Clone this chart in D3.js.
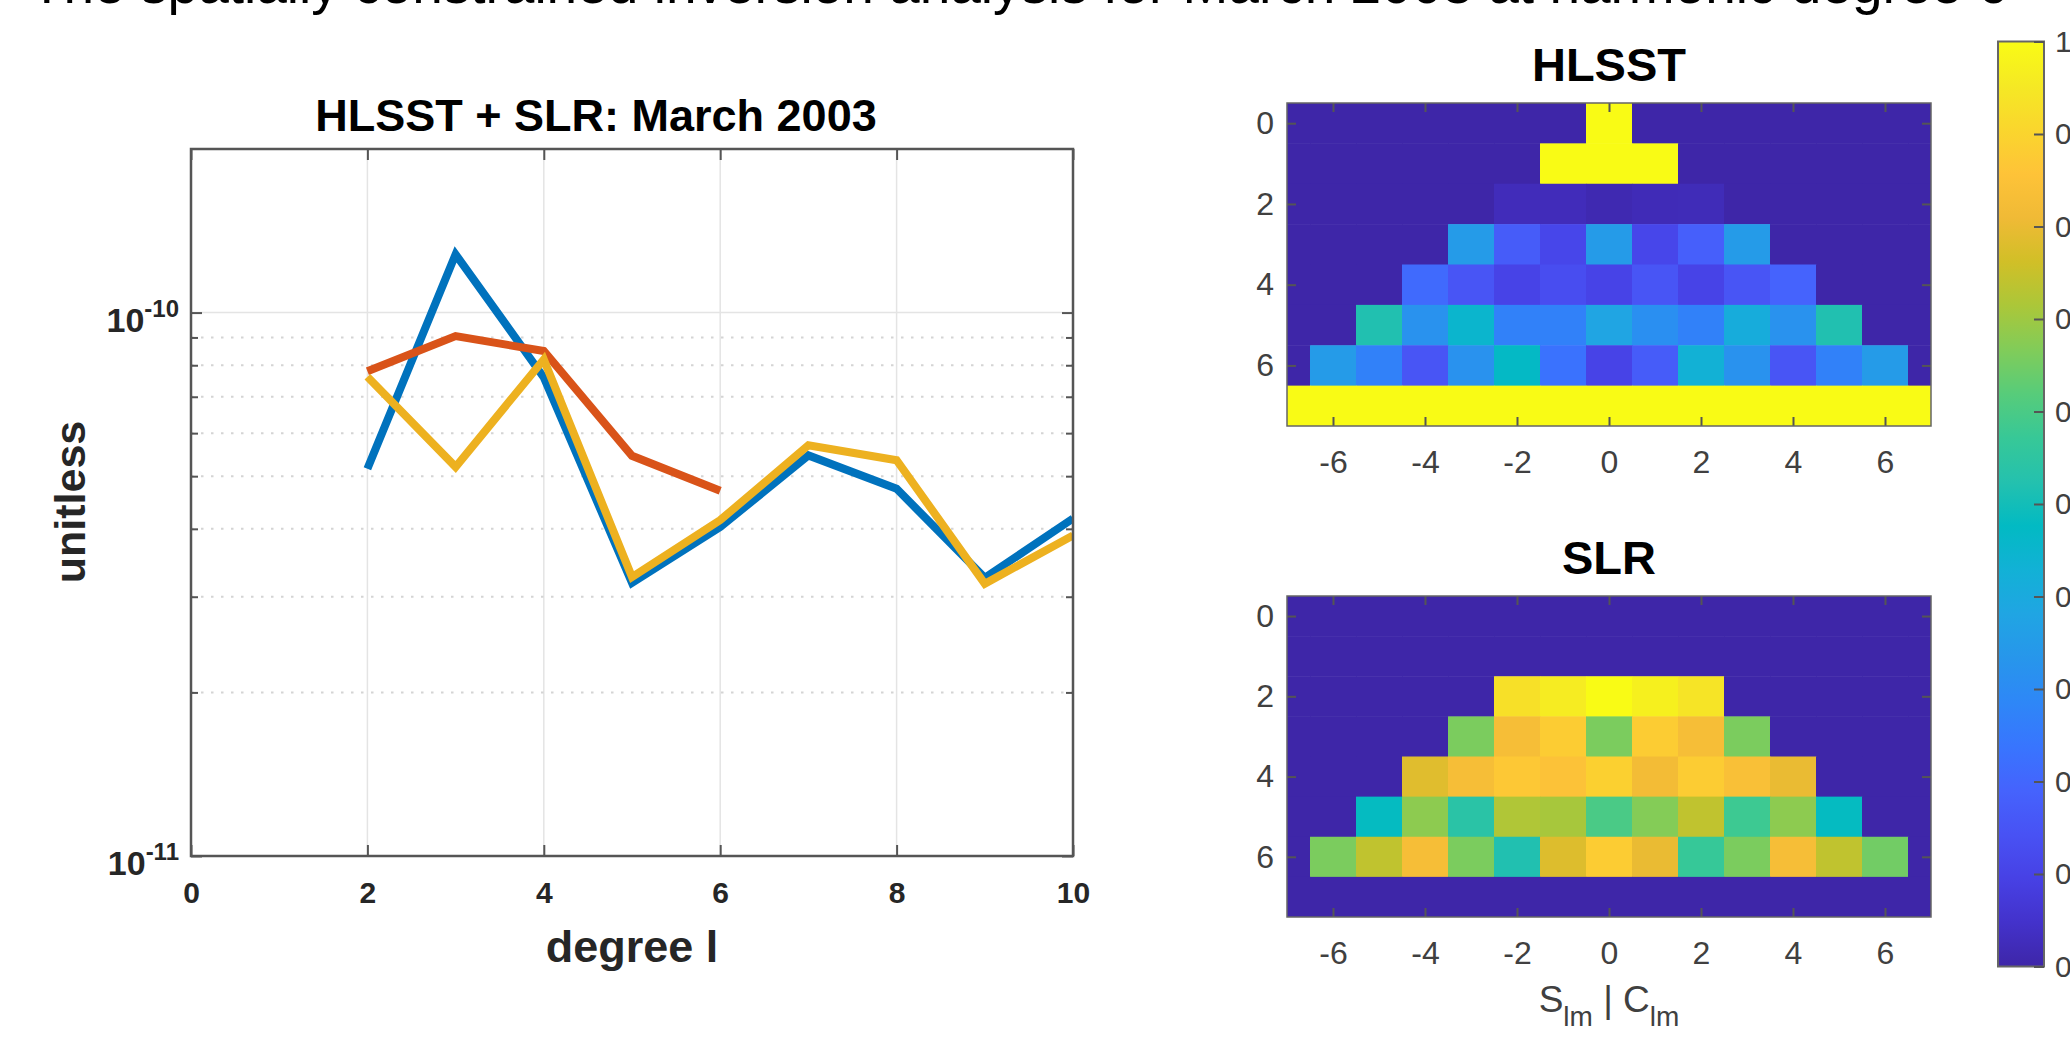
<!DOCTYPE html>
<html>
<head>
<meta charset="utf-8">
<title>HLSST + SLR: March 2003</title>
<style>
    html, body { margin: 0; padding: 0; background: #fff; overflow: hidden; }
    svg { display: block; font-family: "Liberation Sans", Arial, Helvetica, sans-serif; }
</style>
</head>
<body>
<script src="https://d3js.org/d3.v7.min.js"></script>
<script>

    var width = 2070,
        height = 1049;

    // slide heading, mostly cut off by the top of the screenshot
    var headingText = 'The spatially constrained inversion analysis for March 2003 at harmonic degree 6';

    // left panel: degree l vs unitless
    var degrees = [2, 3, 4, 5, 6, 7, 8, 9, 10];
    var blueSeries = [5.16e-11, 1.28e-10, 7.6e-11, 3.18e-11, 4.03e-11, 5.46e-11, 4.74e-11, 3.25e-11, 4.18e-11];
    var redDegrees = [2, 3, 4, 5, 6];
    var redSeries = [7.8e-11, 9.05e-11, 8.5e-11, 5.45e-11, 4.7e-11];
    var yellowSeries = [7.62e-11, 5.2e-11, 8.2e-11, 3.26e-11, 4.15e-11, 5.7e-11, 5.35e-11, 3.17e-11, 3.89e-11];
    var xTicks = [0, 2, 4, 6, 8, 10];
    var yMajor = [1e-11, 1e-10];
    var yMinor = [2e-11, 3e-11, 4e-11, 5e-11, 6e-11, 7e-11, 8e-11, 9e-11];
    var yLabels = [{base: '10', exp: '-11'}, {base: '10', exp: '-10'}];

    // right panels: one row per degree l, orders m = -l..l
    var hlsstRows = [
        [1],
        [1, 1, 1],
        [0.025, 0.025, 0.012, 0.02, 0.022],
        [0.35, 0.17, 0.11, 0.35, 0.11, 0.18, 0.35],
        [0.21, 0.15, 0.10, 0.13, 0.10, 0.15, 0.10, 0.15, 0.19],
        [0.52, 0.32, 0.45, 0.27, 0.27, 0.38, 0.31, 0.27, 0.41, 0.32, 0.52],
        [0.35, 0.27, 0.15, 0.32, 0.47, 0.23, 0.10, 0.17, 0.43, 0.32, 0.15, 0.27, 0.35],
        [1, 1, 1, 1, 1, 1, 1, 1, 1, 1, 1, 1, 1, 1, 1]
    ];
    var slrRows = [
        [0],
        [0, 0, 0],
        [0.93, 0.96, 1.0, 0.97, 0.94],
        [0.66, 0.83, 0.88, 0.66, 0.88, 0.83, 0.66],
        [0.785, 0.83, 0.87, 0.85, 0.89, 0.82, 0.88, 0.84, 0.80],
        [0.48, 0.68, 0.54, 0.72, 0.71, 0.60, 0.67, 0.74, 0.58, 0.68, 0.48],
        [0.66, 0.74, 0.83, 0.66, 0.52, 0.78, 0.88, 0.80, 0.57, 0.66, 0.83, 0.74, 0.65],
        [0, 0, 0, 0, 0, 0, 0, 0, 0, 0, 0, 0, 0, 0, 0]
    ];
    var orderTicks = [-6, -4, -2, 0, 2, 4, 6];
    var degreeTicks = [0, 2, 4, 6];
    var colorbarTicks = [0, 0.1, 0.2, 0.3, 0.4, 0.5, 0.6, 0.7, 0.8, 0.9, 1];

    // parula colormap (every 3rd entry of the 64 colour table)
    var parulaStops = ['#3e26a8', '#4332cb', '#4741e5', '#4852f4', '#4563fd', '#3875fe', '#2e87f7',
        '#2796eb', '#20a5e3', '#12b1d6', '#02bac3', '#24c1ae', '#37c897', '#57cc7a', '#81cc59',
        '#abc739', '#d1bf27', '#f0ba36', '#fec338', '#fad62d', '#f5e924', '#f9fb15'];
    var parula = d3.piecewise(d3.interpolateRgb, parulaStops);
    var color = d3.scaleSequential(parula).domain([0, 1]);

    var svg = d3.select('body').append('svg')
        .attr('width', width)
        .attr('height', height);

    svg.append('text')
        .attr('x', 30).attr('y', 3)
        .attr('font-size', 55)
        .attr('fill', '#000')
        .text(headingText);

    // ---------------- left panel ----------------
    var L = {left: 191, right: 1073, top: 149, bottom: 856};

    var x = d3.scaleLinear().domain([0, 10]).range([L.left, L.right]);
    var y = d3.scaleLog().domain([1e-11, 2e-10]).range([L.bottom, L.top]);

    var left = svg.append('g');

    svg.append('clipPath').attr('id', 'clipLeft')
        .append('rect')
        .attr('x', L.left).attr('y', L.top)
        .attr('width', L.right - L.left).attr('height', L.bottom - L.top);

    // grid
    left.selectAll('.vgrid')
        .data(xTicks.slice(1, -1))
        .enter().append('line')
        .attr('x1', function (d) { return x(d); })
        .attr('x2', function (d) { return x(d); })
        .attr('y1', L.top).attr('y2', L.bottom)
        .attr('stroke', '#e4e4e4').attr('stroke-width', 1.5);

    left.selectAll('.hgrid')
        .data([1e-10])
        .enter().append('line')
        .attr('x1', L.left).attr('x2', L.right)
        .attr('y1', function (d) { return y(d); })
        .attr('y2', function (d) { return y(d); })
        .attr('stroke', '#e4e4e4').attr('stroke-width', 1.5);

    left.selectAll('.minorgrid')
        .data(yMinor)
        .enter().append('line')
        .attr('x1', L.left).attr('x2', L.right)
        .attr('y1', function (d) { return y(d); })
        .attr('y2', function (d) { return y(d); })
        .attr('stroke', '#d4d4d4').attr('stroke-width', 2)
        .attr('stroke-dasharray', '2.5,7.5');

    // curves
    var line = d3.line()
        .x(function (d) { return x(d[0]); })
        .y(function (d) { return y(d[1]); });

    var series = [
        {deg: degrees, val: blueSeries, color: '#0072BD'},
        {deg: redDegrees, val: redSeries, color: '#D95319'},
        {deg: degrees, val: yellowSeries, color: '#EDB120'}
    ];

    left.append('g').attr('clip-path', 'url(#clipLeft)')
        .selectAll('path')
        .data(series)
        .enter().append('path')
        .attr('d', function (s) { return line(d3.zip(s.deg, s.val)); })
        .attr('fill', 'none')
        .attr('stroke', function (s) { return s.color; })
        .attr('stroke-width', 8)
        .attr('stroke-linejoin', 'miter');

    // axes (ticks point inwards, box on)
    function styleAxis(sel) {
        sel.select('.domain').remove();
        sel.selectAll('.tick line').attr('stroke', '#555').attr('stroke-width', 2);
    }

    left.append('g')
        .attr('transform', 'translate(0,' + L.bottom + ')')
        .call(d3.axisBottom(x).tickValues(xTicks).tickSize(-11).tickPadding(26).tickFormat(d3.format('d')))
        .call(styleAxis)
        .selectAll('text')
        .attr('font-size', 30).attr('font-weight', 'bold')
        .attr('font-family', '"Liberation Sans", Arial, sans-serif')
        .attr('fill', '#262626');

    left.append('g')
        .attr('transform', 'translate(0,' + L.top + ')')
        .call(d3.axisTop(x).tickValues(xTicks).tickSize(-11).tickFormat(''))
        .call(styleAxis);

    left.append('g')
        .attr('transform', 'translate(' + L.left + ',0)')
        .call(d3.axisLeft(y).tickValues(yMajor).tickSize(-11).tickFormat(''))
        .call(styleAxis);
    left.append('g')
        .attr('transform', 'translate(' + L.left + ',0)')
        .call(d3.axisLeft(y).tickValues(yMinor).tickSize(-7).tickFormat(''))
        .call(styleAxis);
    left.append('g')
        .attr('transform', 'translate(' + L.right + ',0)')
        .call(d3.axisRight(y).tickValues(yMajor).tickSize(-11).tickFormat(''))
        .call(styleAxis);
    left.append('g')
        .attr('transform', 'translate(' + L.right + ',0)')
        .call(d3.axisRight(y).tickValues(yMinor).tickSize(-7).tickFormat(''))
        .call(styleAxis);

    // 10^n labels
    var yl = left.selectAll('.ylab')
        .data(yMajor)
        .enter().append('text')
        .attr('x', L.left - 12)
        .attr('y', function (d) { return y(d) + 19; })
        .attr('text-anchor', 'end')
        .attr('font-weight', 'bold')
        .attr('fill', '#262626');
    yl.append('tspan')
        .attr('font-size', 34)
        .text(function (d, i) { return yLabels[i].base; });
    yl.append('tspan')
        .attr('font-size', 24)
        .attr('dy', -15)
        .text(function (d, i) { return yLabels[i].exp; });

    left.append('rect')
        .attr('x', L.left).attr('y', L.top)
        .attr('width', L.right - L.left).attr('height', L.bottom - L.top)
        .attr('fill', 'none').attr('stroke', '#555').attr('stroke-width', 2.5);

    left.append('text')
        .attr('x', 596).attr('y', 131)
        .attr('text-anchor', 'middle')
        .attr('font-size', 45).attr('font-weight', 'bold')
        .attr('fill', '#000')
        .text('HLSST + SLR: March 2003');

    left.append('text')
        .attr('x', (L.left + L.right) / 2).attr('y', 962)
        .attr('text-anchor', 'middle')
        .attr('font-size', 45).attr('font-weight', 'bold')
        .attr('fill', '#262626')
        .text('degree l');

    left.append('text')
        .attr('transform', 'translate(85,502) rotate(-90)')
        .attr('text-anchor', 'middle')
        .attr('font-size', 43).attr('font-weight', 'bold')
        .attr('fill', '#262626')
        .text('unitless');

    // ---------------- right panels ----------------
    function heatmap(rows, box, title, id) {
        var xh = d3.scaleLinear().domain([-7, 7]).range([box.left, box.right]);
        var yh = d3.scaleLinear().domain([-0.5, 7.5]).range([box.top, box.bottom]);

        var cells = [];
        rows.forEach(function (row, l) {
            for (var m = -7; m <= 7; m++) {
                cells.push({l: l, m: m, v: Math.abs(m) <= l ? row[m + l] : 0});
            }
        });

        var g = svg.append('g');

        g.append('clipPath').attr('id', id)
            .append('rect')
            .attr('x', box.left).attr('y', box.top)
            .attr('width', box.right - box.left).attr('height', box.bottom - box.top);

        g.append('g').attr('clip-path', 'url(#' + id + ')')
            .selectAll('rect')
            .data(cells)
            .enter().append('rect')
            .attr('x', function (d) { return xh(d.m - 0.5); })
            .attr('y', function (d) { return yh(d.l - 0.5); })
            .attr('width', xh(0.5) - xh(-0.5) + 0.5)
            .attr('height', yh(0.5) - yh(-0.5) + 0.5)
            .attr('fill', function (d) { return color(d.v); });

        var plain = function (d) { return String(d); };

        g.append('g')
            .attr('transform', 'translate(0,' + box.bottom + ')')
            .call(d3.axisBottom(xh).tickValues(orderTicks).tickSize(-9).tickPadding(24).tickFormat(plain))
            .call(styleAxis)
            .selectAll('text')
            .attr('font-size', 32).attr('fill', '#404040')
            .attr('font-family', '"Liberation Sans", Arial, sans-serif');
        g.append('g')
            .attr('transform', 'translate(0,' + box.top + ')')
            .call(d3.axisTop(xh).tickValues(orderTicks).tickSize(-9).tickFormat(''))
            .call(styleAxis);
        g.append('g')
            .attr('transform', 'translate(' + box.left + ',0)')
            .call(d3.axisLeft(yh).tickValues(degreeTicks).tickSize(-9).tickPadding(13).tickFormat(plain))
            .call(styleAxis)
            .selectAll('text')
            .attr('font-size', 32).attr('fill', '#404040')
            .attr('font-family', '"Liberation Sans", Arial, sans-serif');
        g.append('g')
            .attr('transform', 'translate(' + box.right + ',0)')
            .call(d3.axisRight(yh).tickValues(degreeTicks).tickSize(-9).tickFormat(''))
            .call(styleAxis);

        g.append('rect')
            .attr('x', box.left).attr('y', box.top)
            .attr('width', box.right - box.left).attr('height', box.bottom - box.top)
            .attr('fill', 'none').attr('stroke', '#666').attr('stroke-width', 1.5);

        g.append('text')
            .attr('x', (box.left + box.right) / 2).attr('y', box.top - 22)
            .attr('text-anchor', 'middle')
            .attr('font-size', 47).attr('font-weight', 'bold')
            .attr('fill', '#000')
            .text(title);

        return g;
    }

    heatmap(hlsstRows, {left: 1287, right: 1931, top: 103, bottom: 426}, 'HLSST', 'clipHlsst');
    var slr = heatmap(slrRows, {left: 1287, right: 1931, top: 596, bottom: 917}, 'SLR', 'clipSlr');

    var xlab = slr.append('text')
        .attr('x', 1609).attr('y', 1012)
        .attr('text-anchor', 'middle')
        .attr('font-size', 37)
        .attr('fill', '#404040');
    xlab.append('tspan').text('S');
    xlab.append('tspan').attr('font-size', 28).attr('dy', 14).text('lm');
    xlab.append('tspan').attr('dy', -14).text(' | C');
    xlab.append('tspan').attr('font-size', 28).attr('dy', 14).text('lm');

    // ---------------- colorbar ----------------
    var CB = {left: 1998, right: 2044, top: 41.5, bottom: 966.5};
    var cy = d3.scaleLinear().domain([0, 1]).range([CB.bottom, CB.top]);

    var grad = svg.append('defs').append('linearGradient')
        .attr('id', 'parulaGrad')
        .attr('x1', 0).attr('y1', 1).attr('x2', 0).attr('y2', 0);
    grad.selectAll('stop')
        .data(parulaStops)
        .enter().append('stop')
        .attr('offset', function (d, i) { return i / (parulaStops.length - 1); })
        .attr('stop-color', function (d) { return d; });

    svg.append('rect')
        .attr('x', CB.left).attr('y', CB.top)
        .attr('width', CB.right - CB.left).attr('height', CB.bottom - CB.top)
        .attr('fill', 'url(#parulaGrad)')
        .attr('stroke', '#666').attr('stroke-width', 2);

    svg.append('g')
        .attr('transform', 'translate(' + CB.right + ',0)')
        .call(d3.axisRight(cy).tickValues(colorbarTicks).tickSize(-10).tickPadding(11)
            .tickFormat(function (d) { return (d === 0 || d === 1) ? String(d) : d3.format('.1f')(d); }))
        .call(styleAxis)
        .selectAll('text')
        .attr('font-size', 30).attr('fill', '#404040')
        .attr('font-family', '"Liberation Sans", Arial, sans-serif');

</script>
</body>
</html>
